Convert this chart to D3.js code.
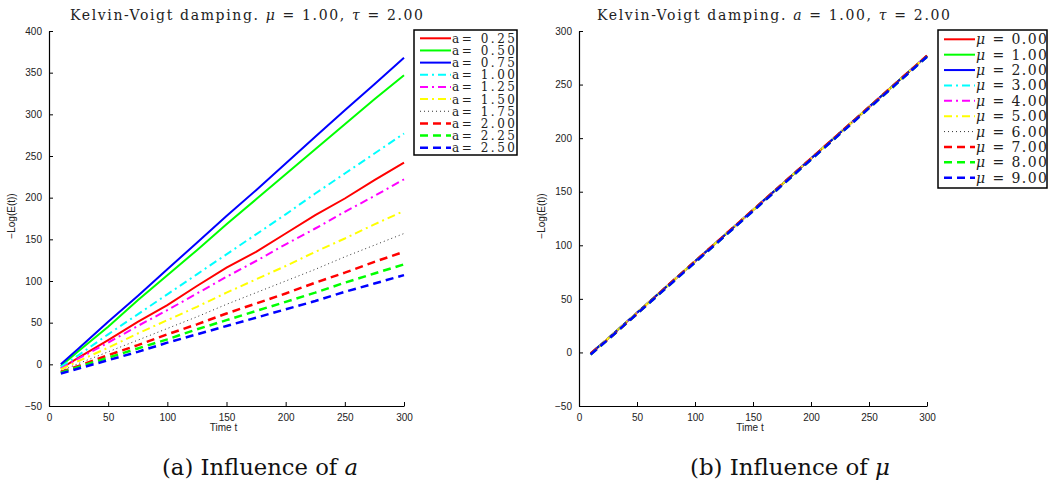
<!DOCTYPE html>
<html>
<head>
<meta charset="utf-8">
<script src="https://cdn.jsdelivr.net/npm/d3@7"></script>
<style>
  body { margin: 0; background: #fff; }
  #wrapper svg { display: block; }
</style>
</head>
<body>
<div id="wrapper"></div>
<script>
// time samples shared by every curve
const timeSteps = [10, 25, 50, 75, 100, 125, 150, 175, 200, 225, 250, 275, 300];

// panel (a): influence of a
const aLabels = ["0.25", "0.50", "0.75", "1.00", "1.25", "1.50", "1.75", "2.00", "2.25", "2.50"];
const aValues = [
  [-5, 8, 29, 51, 71, 94, 116, 135, 157, 179, 199, 221, 242],
  [-2, 16, 45, 77, 107, 137, 168, 198, 228, 258, 288, 318, 347],
  [0, 19, 51, 82, 114, 146, 178, 209, 241, 273, 305, 336, 368],
  [-3, 11, 36, 60, 84, 108, 132, 156, 180, 205, 229, 253, 277],
  [-5, 7, 26, 46, 65, 85, 105, 124, 144, 163, 183, 202, 222],
  [-6, 4, 20, 37, 53, 69, 86, 102, 118, 135, 151, 168, 184],
  [-8, 1, 15, 29, 43, 57, 72, 86, 100, 114, 129, 143, 157],
  [-9, -2, 11, 23, 36, 48, 61, 73, 85, 98, 110, 123, 135],
  [-10, -3, 8, 19, 30, 42, 53, 64, 75, 86, 98, 109, 120],
  [-11, -5, 5, 15, 26, 36, 46, 56, 66, 76, 87, 97, 107],
];

// panel (b): influence of mu
const muLabels = ["0.00", "1.00", "2.00", "3.00", "4.00", "5.00", "6.00", "7.00", "8.00", "9.00"];
const muValues = [
  [-1, 13, 37, 61, 85, 109, 133, 157, 181, 205, 229, 253, 277],
  [-1, 13, 37, 61, 85, 109, 133, 157, 181, 205, 229, 253, 277],
  [-1, 13, 37, 61, 85, 109, 133, 157, 181, 205, 229, 253, 277],
  [-1, 13, 37, 61, 85, 109, 133, 157, 181, 205, 229, 253, 277],
  [-1, 13, 37, 61, 85, 109, 133, 157, 181, 205, 229, 253, 277],
  [-2, 13, 37, 61, 85, 109, 133, 157, 181, 205, 229, 253, 277],
  [-1, 13, 37, 61, 85, 109, 133, 157, 181, 205, 229, 253, 277],
  [-1, 12, 36, 61, 85, 109, 133, 157, 181, 205, 229, 253, 277],
  [-2, 12, 36, 60, 84, 108, 132, 156, 180, 204, 228, 252, 276],
  [-2, 12, 36, 60, 84, 108, 132, 156, 180, 204, 228, 252, 276],
];

const xTicks = [0, 50, 100, 150, 200, 250, 300];
const yTicksA = [-50, 0, 50, 100, 150, 200, 250, 300, 350, 400];
const yTicksB = [-50, 0, 50, 100, 150, 200, 250, 300];

// MATLAB-ish line styles, one per series
const lineStyles = [
  { color: "#ff0000", dash: null, width: 2 },
  { color: "#00ff00", dash: null, width: 2 },
  { color: "#0000ff", dash: null, width: 2 },
  { color: "#00ffff", dash: "8,4,2,4", width: 2 },
  { color: "#ff00ff", dash: "8,4,2,4", width: 2 },
  { color: "#ffff00", dash: "8,4,2,4", width: 2 },
  { color: "#333333", dash: "1,3", width: 1 },
  { color: "#ff0000", dash: "8,5", width: 2.5 },
  { color: "#00ff00", dash: "8,5", width: 2.5 },
  { color: "#0000ff", dash: "8,5", width: 2.5 },
]

const serif = "'DejaVu Serif', 'Liberation Serif', serif";
const sans = "'Liberation Sans', Arial, sans-serif";

const svg = d3.select("#wrapper")
  .append("svg")
    .attr("width", 1060)
    .attr("height", 484)

function drawPanel(cfg) {
  const xScale = d3.scaleLinear()
    .domain([0, 300])
    .range([cfg.left, cfg.right]);

  const yScale = d3.scaleLinear()
    .domain(d3.extent(cfg.yTicks))
    .range([406, 31]);

  const g = svg.append("g");

  // axes: ticks point inward, no box
  g.append("g")
    .attr("transform", `translate(0, ${yScale.range()[0]})`)
    .call(d3.axisBottom(xScale).tickValues(xTicks).tickSizeInner(-4).tickSizeOuter(0).tickPadding(8));

  g.append("g")
    .attr("transform", `translate(${cfg.left}, 0)`)
    .call(d3.axisLeft(yScale).tickValues(cfg.yTicks).tickSizeInner(-4).tickSizeOuter(0).tickPadding(7)
      .tickFormat(d => d < 0 ? "\u2212" + Math.abs(d) : d));

  g.selectAll(".domain").attr("stroke", "#000").attr("stroke-width", 1.2);
  g.selectAll(".tick line").attr("stroke", "#000");
  g.selectAll(".tick text")
    .attr("fill", "#222")
    .style("font-family", sans)
    .style("font-size", "10px");

  g.append("text")
    .attr("x", (cfg.left + cfg.right) / 2 - 3)
    .attr("y", 431)
    .attr("text-anchor", "middle")
    .style("font-family", sans)
    .style("font-size", "10px")
    .attr("fill", "#222")
    .text("Time t");

  g.append("text")
    .attr("transform", `translate(${cfg.left - 34}, 216) rotate(-90)`)
    .attr("text-anchor", "middle")
    .style("font-family", sans)
    .style("font-size", "10px")
    .attr("fill", "#222")
    .text("\u2212Log(E(t))");

  // curves
  const lineGen = d3.line()
    .x((d, i) => xScale(timeSteps[i]))
    .y(d => yScale(d));

  g.append("g")
    .selectAll("path")
    .data(cfg.values)
    .join("path")
      .attr("d", d => lineGen(d))
      .attr("fill", "none")
      .attr("stroke", (d, i) => lineStyles[i].color)
      .attr("stroke-width", (d, i) => lineStyles[i].width)
      .attr("stroke-dasharray", (d, i) => lineStyles[i].dash);

  // title
  const title = g.append("text")
    .attr("x", cfg.titleX)
    .attr("y", 20)
    .attr("textLength", 353)
    .attr("lengthAdjust", "spacing")
    .style("font-family", serif)
    .style("font-size", "14px")
    .attr("fill", "#222");
  title.append("tspan").text("Kelvin-Voigt damping. ");
  title.append("tspan").style("font-style", "italic").text(cfg.titleSym1);
  title.append("tspan").text(" = 1.00, ");
  title.append("tspan").style("font-style", "italic").text("\u03c4");
  title.append("tspan").text(" = 2.00");

  // legend
  const lg = cfg.legend;
  g.append("rect")
    .attr("x", lg.x)
    .attr("y", 30)
    .attr("width", lg.w)
    .attr("height", lg.h)
    .attr("fill", "#fff")
    .attr("stroke", "#000")
    .attr("stroke-width", 1.5);

  const rows = g.append("g")
    .selectAll("g")
    .data(cfg.labels)
    .join("g")
      .attr("transform", (d, i) => `translate(0, ${lg.first + i * lg.step})`);

  rows.append("line")
    .attr("x1", lg.x + 6)
    .attr("x2", lg.x + 37)
    .attr("stroke", (d, i) => lineStyles[i].color)
    .attr("stroke-width", (d, i) => lineStyles[i].width)
    .attr("stroke-dasharray", (d, i) => lineStyles[i].dash);

  const rowText = rows.append("text")
    .attr("x", lg.x + 38)
    .attr("y", lg.baseline)
    .attr("textLength", lg.textW)
    .attr("lengthAdjust", "spacing")
    .style("font-family", serif)
    .style("font-size", lg.fontSize)
    .attr("fill", "#222");
  rowText.append("tspan").style("font-style", cfg.legendItalic ? "italic" : "normal").text(cfg.legendSym);
  rowText.append("tspan").text(d => cfg.legendSep + d);

  // caption
  const cap = g.append("text")
    .attr("x", cfg.captionX - cfg.captionW / 2)
    .attr("y", 475)
    .attr("textLength", cfg.captionW)
    .attr("lengthAdjust", "spacingAndGlyphs")
    .style("font-family", serif)
    .style("font-size", "22px")
    .attr("fill", "#111");
  cap.append("tspan").text(cfg.captionText);
  cap.append("tspan").style("font-style", "italic").text(cfg.captionSym);
}

drawPanel({
  left: 49, right: 404,
  yTicks: yTicksA,
  values: aValues,
  labels: aLabels,
  titleX: 70, titleSym1: "\u03bc",
  legend: { x: 414, w: 103, h: 125, first: 38.3, step: 12.16, textW: 63, fontSize: "12px", baseline: 4.5 },
  legendSym: "a", legendItalic: false, legendSep: "= ",
  captionX: 260, captionW: 196, captionText: "(a) Influence of ", captionSym: "a",
});

drawPanel({
  left: 579, right: 927,
  yTicks: yTicksB,
  values: muValues,
  labels: muLabels,
  titleX: 597, titleSym1: "a",
  legend: { x: 938, w: 109, h: 158, first: 39.3, step: 15.38, textW: 71, fontSize: "14px", baseline: 5 },
  legendSym: "\u03bc", legendItalic: true, legendSep: " = ",
  captionX: 790, captionW: 200, captionText: "(b) Influence of ", captionSym: "\u03bc",
});
</script>
</body>
</html>
